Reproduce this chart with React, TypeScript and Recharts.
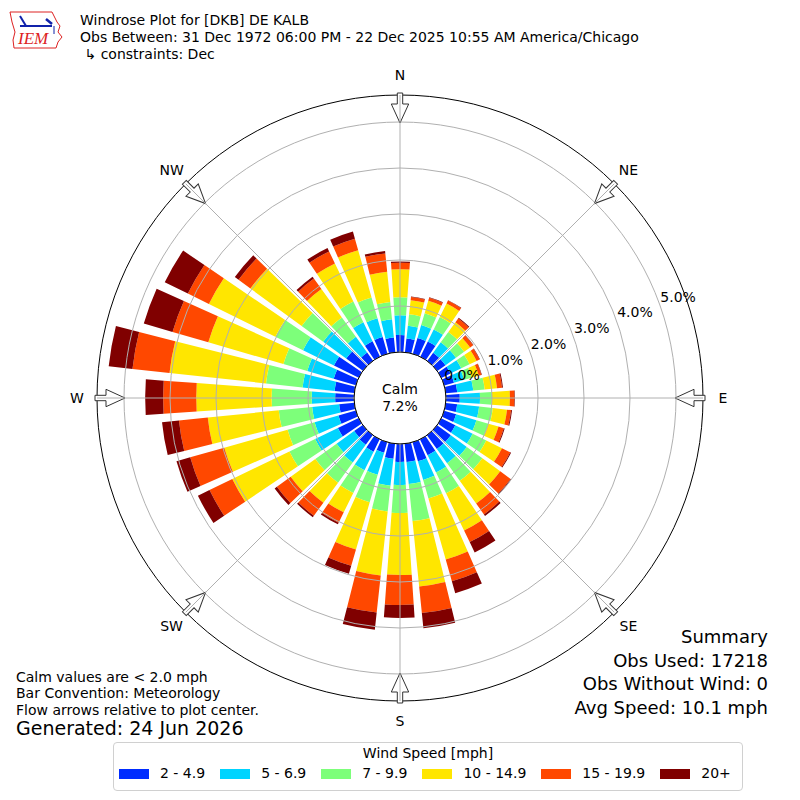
import React from "react";
import {
  PolarAngleAxis,
  PolarGrid,
  PolarRadiusAxis,
  RadialBar,
  RadialBarChart,
} from "recharts";

// direction bins (degrees, meteorological)
const directions = [
  0, 10, 20, 30, 40, 50, 60, 70, 80, 90, 100, 110, 120, 130, 140, 150, 160, 170,
  180, 190, 200, 210, 220, 230, 240, 250, 260, 270, 280, 290, 300, 310, 320, 330, 340, 350,
];

// frequency [%] per speed bin, one value per direction
const speed2to5 = [
  0.37, 0.3, 0.36, 0.37, 0.22, 0.22, 0.22, 0.22, 0.25, 0.3, 0.25, 0.27, 0.34, 0.37, 0.37, 0.38, 0.43, 0.4,
  0.39, 0.33, 0.24, 0.3, 0.26, 0.23, 0.5, 0.39, 0.33, 0.41, 0.43, 0.5, 0.6, 0.45, 0.22, 0.37, 0.38, 0.32,
];
const speed5to7 = [
  0.43, 0.28, 0.29, 0.29, 0.28, 0.28, 0.26, 0.23, 0.35, 0.44, 0.48, 0.46, 0.42, 0.43, 0.38, 0.42, 0.42, 0.48,
  0.5, 0.59, 0.5, 0.45, 0.48, 0.47, 0.55, 0.54, 0.59, 0.51, 0.7, 0.6, 0.75, 0.62, 0.42, 0.46, 0.42, 0.4,
];
const speed7to10 = [
  0.39, 0.25, 0.27, 0.3, 0.28, 0.22, 0.2, 0.17, 0.25, 0.26, 0.3, 0.27, 0.33, 0.42, 0.47, 0.5, 0.42, 0.81,
  0.61, 0.56, 0.62, 0.55, 0.54, 0.57, 0.62, 0.61, 0.73, 0.87, 0.8, 0.54, 0.67, 0.58, 0.52, 0.5, 0.47, 0.38,
];
const speed10to15 = [
  0.61, 0.31, 0.28, 0.33, 0.26, 0.16, 0.17, 0.16, 0.27, 0.39, 0.31, 0.23, 0.38, 0.48, 0.61, 0.9, 1.38, 1.43,
  1.35, 1.4, 1.07, 0.47, 0.54, 0.66, 1.38, 1.43, 1.55, 1.64, 2.11, 1.7, 1.61, 1.38, 0.76, 0.92, 1.07, 0.66,
];
const speed15to20 = [
  0.14, 0.07, 0.07, 0.07, 0.1, 0.08, 0.07, 0.06, 0.11, 0.1, 0.09, 0.12, 0.2, 0.28, 0.29, 0.28, 0.49, 0.58,
  0.65, 0.81, 0.37, 0.25, 0.35, 0.37, 0.55, 0.77, 0.63, 0.72, 0.81, 0.81, 0.51, 0.32, 0.28, 0.29, 0.26, 0.4,
];
const speed20plus = [
  0.03, 0.01, 0.01, 0.01, 0.02, 0.01, 0.01, 0.01, 0.02, 0.01, 0.02, 0.02, 0.02, 0.02, 0.04, 0.25, 0.27, 0.33,
  0.28, 0.38, 0.18, 0.04, 0.04, 0.06, 0.28, 0.31, 0.37, 0.39, 0.52, 0.65, 0.56, 0.1, 0.05, 0.08, 0.16, 0.05,
];

const speedLabels = ["2 - 4.9", "5 - 6.9", "7 - 9.9", "10 - 14.9", "15 - 19.9", "20+"];
const speedColors = ["#002cff", "#00d4ff", "#7dff7a", "#ffe600", "#ff4800", "#800000"];
const speedKeys = ["s2", "s5", "s7", "s10", "s15", "s20"];
const radiusTicks = [0, 1, 2, 3, 4, 5];
const compass: Record<number, string> = {
  0: "N", 45: "NE", 90: "E", 135: "SE", 180: "S", 225: "SW", 270: "W", 315: "NW",
};

const data = directions.map((dir, i) => ({
  dir,
  s2: speed2to5[i],
  s5: speed5to7[i],
  s7: speed7to10[i],
  s10: speed10to15[i],
  s15: speed15to20[i],
  s20: speed20plus[i],
}));

const font = "'DejaVu Sans', sans-serif";
const halfBand = 360 / directions.length / 2;
// radial scale: 0% at 46px, 46px per percent; the frame circle sits at 303px
const CALM_R = 46;
const SCALE_R = 322; // radius of 6.0%
const FRAME_R = 303;

function Spoke({ cx, cy, deg, name }: any) {
  const a = (deg * Math.PI) / 180;
  const ux = Math.cos(a);
  const uy = -Math.sin(a);
  const x = cx + ux * FRAME_R;
  const y = cy + uy * FRAME_R;
  return (
    <g>
      <g transform={`translate(${x},${y}) rotate(${180 - deg})`}>
        <polygon
          points="-2,-2.7 9,-2.7 9,-8.7 28,0 9,8.7 9,2.7 -2,2.7"
          fill="#fff"
          stroke="#333"
          strokeWidth={1}
        />
      </g>
      <line
        x1={cx + ux * CALM_R}
        y1={cy + uy * CALM_R}
        x2={x}
        y2={y}
        stroke="#b0b0b0"
        strokeWidth={1}
      />
      <text
        x={x + ux * 20}
        y={y + uy * 20}
        textAnchor="middle"
        dominantBaseline="central"
        fontSize={14}
        fontFamily={font}
        fill="#000"
      >
        {name}
      </text>
    </g>
  );
}

// each tick covers its bin centre and the bin edge after it;
// draws the spoke, arrow and label wherever one of the 8 compass points falls
function DirTick(props: any) {
  const { cx, cy, payload } = props;
  const spots = [
    { deg: payload.coordinate + halfBand, comp: payload.value },
    { deg: payload.coordinate, comp: payload.value + halfBand },
  ].filter((s) => compass[s.comp]);
  if (!spots.length) return null;
  return (
    <g>
      {spots.map((s) => (
        <Spoke key={s.comp} cx={cx} cy={cy} deg={s.deg} name={compass[s.comp]} />
      ))}
    </g>
  );
}

function PctTick(props: any) {
  const { x, y, payload } = props;
  const a = (20 * Math.PI) / 180;
  return (
    <text
      x={x + Math.cos(a) * 20}
      y={y - Math.sin(a) * 20}
      textAnchor="middle"
      dominantBaseline="central"
      fontSize={14}
      fontFamily={font}
      fill="#000"
    >
      {payload.value.toFixed(1) + "%"}
    </text>
  );
}

function Logo() {
  return (
    <svg width={60} height={50} style={{ position: "absolute", left: 6, top: 4 }}>
      <path
        d="M4,8 L46,8 L48,12 L51,18 L54,22 L52,28 L56,33 L52,38 L50,44 L8,44 L7,36 L9,28 L6,18 Z"
        fill="none"
        stroke="#d22"
        strokeWidth={1}
      />
      <line x1={14} y1={22} x2={46} y2={22} stroke="#12a" strokeWidth={2} />
      <line x1={14} y1={12} x2={20} y2={22} stroke="#12a" strokeWidth={2} />
      <line x1={40} y1={15} x2={46} y2={20} stroke="#12a" strokeWidth={2.5} />
      <line x1={48} y1={22} x2={48} y2={30} stroke="#12a" strokeWidth={1} />
      <text x={12} y={40} fill="#d22" fontSize={17} fontStyle="italic" fontFamily="'Liberation Serif', serif">
        IEM
      </text>
    </svg>
  );
}

const line = (top: number, left: number, size: number, text: string, extra: any = {}) => (
  <div
    style={{
      position: "absolute",
      top,
      left,
      fontSize: size,
      lineHeight: 1,
      whiteSpace: "nowrap",
      ...extra,
    }}
  >
    {text}
  </div>
);

export default function App() {
  return (
    <div
      style={{
        position: "absolute",
        left: 0,
        top: 0,
        width: 800,
        height: 800,
        background: "#fff",
        fontFamily: font,
        color: "#000",
        overflow: "hidden",
      }}
    >
      <RadialBarChart
        width={800}
        height={800}
        cx={400}
        cy={398}
        data={data}
        layout="centric"
        startAngle={85}
        endAngle={-275}
        innerRadius={CALM_R}
        outerRadius={SCALE_R}
        barCategoryGap="8%"
        margin={{ top: 0, right: 0, bottom: 0, left: 0 }}
      >
        <PolarRadiusAxis
          type="number"
          domain={[0, 6]}
          ticks={radiusTicks}
          angle={20}
          axisLine={false}
          tickLine={false}
          tick={<PctTick />}
        />
        {speedKeys.map((k, i) => (
          <RadialBar
            key={k}
            dataKey={k}
            stackId="a"
            fill={speedColors[i]}
            isAnimationActive={false}
          />
        ))}
        <PolarGrid
          gridType="circle"
          radialLines={false}
          stroke="#b0b0b0"
          strokeWidth={1}
          zIndex={400}
        />
        <PolarGrid
          gridType="circle"
          radialLines={false}
          polarRadius={[CALM_R, FRAME_R]}
          stroke="#000"
          strokeWidth={1}
          zIndex={410}
        />
        <PolarAngleAxis
          dataKey="dir"
          type="category"
          axisLine={false}
          tickLine={false}
          tickSize={0}
          tick={<DirTick />}
          zIndex={420}
        />
      </RadialBarChart>

      <div
        style={{
          position: "absolute",
          left: 350,
          top: 381,
          width: 100,
          textAlign: "center",
          fontSize: 14,
          lineHeight: "17px",
        }}
      >
        Calm
        <br />
        7.2%
      </div>

      <Logo />
      {line(13, 80, 14, "Windrose Plot for [DKB] DE KALB")}
      {line(30, 80, 14, "Obs Between: 31 Dec 1972 06:00 PM - 22 Dec 2025 10:55 AM America/Chicago")}
      {line(47, 80, 14, " \u21b3 constraints: Dec", { whiteSpace: "pre" })}

      {line(670, 16, 14, "Calm values are < 2.0 mph")}
      {line(686, 16, 14, "Bar Convention: Meteorology")}
      {line(703, 16, 14, "Flow arrows relative to plot center.")}
      {line(719, 16, 19, "Generated: 24 Jun 2026")}

      <div
        style={{
          position: "absolute",
          right: 32,
          top: 625,
          textAlign: "right",
          fontSize: 18,
          lineHeight: "23.5px",
        }}
      >
        Summary
        <br />
        Obs Used: 17218
        <br />
        Obs Without Wind: 0
        <br />
        Avg Speed: 10.1 mph
      </div>

      <div
        style={{
          position: "absolute",
          left: 113,
          top: 742,
          width: 630,
          height: 49,
          boxSizing: "border-box",
          border: "1px solid #d0d0d0",
          borderRadius: 4,
          fontSize: 14,
        }}
      >
        <div style={{ textAlign: "center", marginTop: 2, lineHeight: "17px" }}>Wind Speed [mph]</div>
        <div style={{ display: "flex", marginTop: 3, marginLeft: 5, lineHeight: "17px", whiteSpace: "nowrap" }}>
          {speedLabels.map((lab, i) => (
            <div
              key={lab}
              style={{ display: "flex", alignItems: "center", marginRight: 15, flexShrink: 0 }}
            >
              <span
                style={{
                  display: "inline-block",
                  width: 30,
                  height: 10,
                  background: speedColors[i],
                  marginRight: 11,
                }}
              />
              <span>{lab}</span>
            </div>
          ))}
        </div>
      </div>
    </div>
  );
}
